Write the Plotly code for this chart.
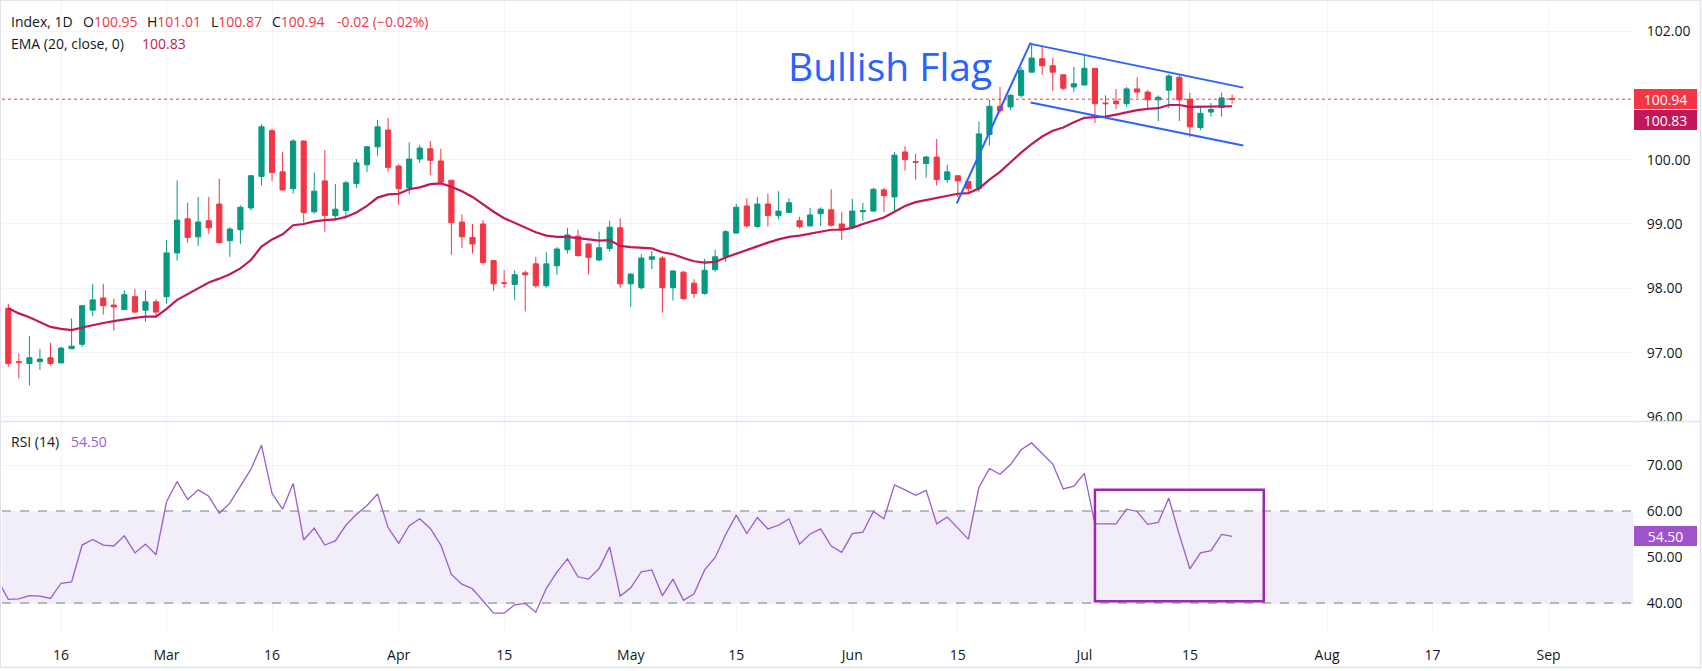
import plotly.graph_objects as go
import pandas as pd

# ---------------- data ----------------
start_date = "2026-02-09"

opens = [97.69, 96.86, 96.83, 96.86, 96.92, 96.84, 97.06, 97.13, 97.66, 97.85,
         97.74, 97.67, 97.87, 97.66, 97.79, 97.87, 98.55, 99.08, 98.80, 99.05,
         99.31, 98.74, 98.91, 99.25, 99.74, 100.45, 99.81, 99.55, 100.29, 99.19,
         99.67, 99.13, 99.21, 99.63, 99.92, 100.20, 100.46, 99.90, 99.56, 100.01,
         100.17, 99.98, 99.68, 99.03, 98.79, 99.00, 98.43, 98.085, 98.06, 98.24,
         98.38, 98.04, 98.35, 98.60, 98.81, 98.69, 98.44, 98.62, 98.94, 98.07,
         98.01, 98.45, 98.47, 98.01, 98.25, 98.08, 97.92, 98.29, 98.49, 98.86,
         99.28, 98.96, 99.31, 99.13, 99.18, 99.05, 98.97, 99.16, 99.22, 99.00,
         98.95, 99.19, 99.20, 99.53, 99.42, 100.12, 99.97, 99.94, 100.04, 99.69,
         99.75, 99.66, 99.55, 100.39, 100.83, 100.82, 101.00, 101.36, 101.57, 101.46,
         101.32, 101.13, 101.16, 101.42, 100.88, 100.91, 100.87, 101.10, 101.05, 100.93,
         101.08, 101.28, 100.94, 100.50, 100.74, 100.81, 100.95]
highs = [97.76, 96.99, 97.26, 97.06, 97.15, 97.09, 97.53, 97.74, 98.07, 98.07,
         97.84, 97.97, 97.99, 97.97, 97.83, 98.75, 99.68, 99.33, 99.42, 99.42,
         99.70, 98.95, 99.29, 99.76, 100.55, 100.48, 100.12, 100.32, 100.30, 99.80,
         100.15, 99.62, 99.67, 100.01, 100.21, 100.62, 100.65, 99.93, 100.27, 100.23,
         100.29, 100.17, 99.68, 99.15, 99.00, 99.06, 98.43, 98.28, 98.28, 98.28,
         98.49, 98.56, 98.64, 98.94, 98.91, 98.69, 98.88, 99.05, 99.09, 98.24,
         98.53, 98.58, 98.50, 98.28, 98.27, 98.14, 98.46, 98.60, 98.91, 99.31,
         99.40, 99.42, 99.47, 99.51, 99.40, 99.11, 99.25, 99.26, 99.54, 99.19,
         99.39, 99.33, 99.56, 99.56, 100.12, 100.21, 100.09, 100.06, 100.32, 99.92,
         99.75, 99.66, 100.59, 100.93, 101.13, 101.02, 101.44, 101.80, 101.75, 101.58,
         101.32, 101.44, 101.61, 101.42, 101.00, 101.10, 101.13, 101.28, 101.08, 101.00,
         101.33, 101.33, 101.04, 100.82, 100.88, 101.04, 101.01]
lows = [96.78, 96.60, 96.49, 96.73, 96.80, 96.84, 97.06, 97.09, 97.57, 97.59,
        97.34, 97.66, 97.62, 97.48, 97.57, 97.76, 98.43, 98.71, 98.66, 98.85,
        98.71, 98.49, 98.69, 99.21, 99.60, 99.67, 99.52, 99.47, 99.02, 99.16,
        98.88, 99.05, 99.08, 99.56, 99.81, 100.06, 99.81, 99.30, 99.46, 99.95,
        99.76, 99.65, 98.52, 98.63, 98.54, 98.37, 97.96, 98.01, 97.82, 97.64,
        98.01, 98.01, 98.21, 98.54, 98.49, 98.21, 98.42, 98.57, 98.01, 97.71,
        97.98, 98.30, 97.62, 97.81, 97.82, 97.85, 97.90, 98.26, 98.41, 98.85,
        98.94, 98.94, 98.96, 99.07, 99.18, 98.93, 98.97, 98.97, 98.96, 98.75,
        98.94, 99.05, 99.19, 99.19, 99.17, 99.83, 99.69, 99.72, 99.60, 99.64,
        99.42, 99.50, 99.50, 100.22, 100.73, 100.77, 100.96, 101.36, 101.32, 101.07,
        101.08, 101.05, 101.16, 100.57, 100.65, 100.79, 100.82, 100.96, 100.79, 100.60,
        100.80, 100.60, 100.35, 100.46, 100.67, 100.67, 100.87]
closes = [96.83, 96.85, 96.92, 96.90, 96.83, 97.07, 97.10, 97.73, 97.82, 97.73,
          97.71, 97.90, 97.63, 97.79, 97.63, 98.55, 99.06, 98.79, 99.03, 98.94,
          98.71, 98.92, 99.26, 99.75, 100.51, 99.80, 99.53, 100.29, 99.18, 99.51,
          99.13, 99.23, 99.64, 99.95, 100.20, 100.51, 99.88, 99.55, 100.01, 100.18,
          99.99, 99.65, 99.02, 98.80, 98.69, 98.40, 98.07, 98.08, 98.21, 98.21,
          98.04, 98.38, 98.61, 98.83, 98.51, 98.48, 98.63, 98.95, 98.07, 98.22,
          98.47, 98.49, 98.01, 98.27, 97.84, 97.92, 98.28, 98.49, 98.88, 99.26,
          98.97, 99.31, 99.13, 99.20, 99.33, 98.96, 99.14, 99.23, 98.98, 98.91,
          99.20, 99.21, 99.54, 99.44, 100.07, 100.00, 99.96, 100.04, 99.69, 99.81,
          99.67, 99.55, 100.40, 100.83, 100.76, 101.00, 101.39, 101.58, 101.46, 101.36,
          101.11, 101.18, 101.42, 100.87, 100.87, 100.87, 101.10, 101.05, 100.93, 100.97,
          101.30, 100.93, 100.51, 100.72, 100.78, 100.96, 100.94]
ema20 = [97.69, 97.61, 97.55, 97.48, 97.40, 97.37, 97.35, 97.39, 97.43, 97.46,
         97.49, 97.52, 97.54, 97.56, 97.56, 97.68, 97.82, 97.91, 98.00, 98.09,
         98.15, 98.22, 98.31, 98.44, 98.65, 98.76, 98.84, 98.98, 99.00, 99.04,
         99.06, 99.07, 99.11, 99.18, 99.28, 99.41, 99.46, 99.47, 99.54, 99.57,
         99.62, 99.63, 99.58, 99.51, 99.42, 99.30, 99.19, 99.09, 99.02, 98.95,
         98.87, 98.82, 98.80, 98.80, 98.78, 98.75, 98.74, 98.75, 98.66, 98.64,
         98.63, 98.62, 98.56, 98.53, 98.47, 98.42, 98.40, 98.41, 98.48, 98.54,
         98.60, 98.66, 98.71, 98.76, 98.80, 98.82, 98.85, 98.89, 98.91, 98.91,
         98.94, 99.00, 99.05, 99.10, 99.19, 99.28, 99.34, 99.37, 99.40, 99.44,
         99.47, 99.48, 99.55, 99.69, 99.81, 99.96, 100.11, 100.24, 100.36, 100.45,
         100.50, 100.58, 100.65, 100.66, 100.67, 100.70, 100.74, 100.77, 100.79, 100.80,
         100.85, 100.85, 100.82, 100.82, 100.83, 100.83, 100.83]
rsi14 = [40.8, 40.9, 41.6, 41.5, 41.0, 44.3, 44.6, 52.6, 53.8, 52.6,
         52.4, 54.6, 50.9, 52.8, 50.5, 62.0, 66.4, 62.5, 64.6, 63.2,
         59.5, 61.7, 65.3, 69.1, 74.3, 63.8, 60.4, 66.0, 53.7, 56.3,
         52.6, 53.5, 56.9, 59.3, 61.2, 63.7, 56.4, 53.0, 56.8, 58.3,
         56.2, 52.6, 46.2, 44.1, 43.1, 40.4, 37.8, 37.8, 39.6, 39.9,
         38.0, 43.2, 46.7, 49.6, 45.7, 45.2, 47.5, 52.2, 41.5, 43.3,
         46.8, 47.2, 41.6, 45.2, 40.6, 42.0, 47.2, 49.9, 54.9, 59.1,
         55.1, 58.6, 56.1, 56.9, 58.3, 52.8, 55.0, 56.1, 52.4, 51.0,
         55.1, 55.4, 59.9, 58.3, 65.7, 64.6, 63.4, 64.5, 57.2, 58.7,
         56.2, 53.9, 65.1, 69.2, 68.0, 70.1, 73.3, 74.8, 72.5, 70.2,
         64.8, 65.4, 68.2, 57.2, 57.2, 57.2, 60.4, 59.9, 57.1, 57.5,
         62.8, 54.8, 47.4, 50.9, 51.4, 54.9, 54.5]
rsi_prev = 45.0  # RSI of the session before the first visible bar (enters from the left edge)

tick_dates = ["2026-02-16", "2026-03-02", "2026-03-16", "2026-04-01", "2026-04-15",
              "2026-05-01", "2026-05-15", "2026-06-01", "2026-06-15", "2026-07-01",
              "2026-07-15", "2026-08-03", "2026-08-17", "2026-09-01"]
tick_labels = ["16", "Mar", "16", "Apr", "15", "May", "15", "Jun", "15", "Jul",
               "15", "Aug", "17", "Sep"]
price_ticks = [96, 97, 98, 99, 100, 102]   # 101.00 is hidden behind the price tags
rsi_ticks = [40, 50, 60, 70]

# flag pattern anchor points (date, price)
pole = [("2026-06-15", 99.32), ("2026-06-24", 101.82)]
flag_upper = [("2026-06-24", 101.80), ("2026-07-22", 101.12)]
flag_lower = [("2026-06-24", 100.89), ("2026-07-22", 100.22)]
rsi_box = [("2026-07-02", 40.4), ("2026-07-24", 64.6)]

# ---------------- helpers ----------------
all_days = pd.bdate_range(start_date, periods=200)
def idx(d):
    return int(all_days.get_loc(pd.Timestamp(d)))

xs = list(range(len(closes)))
tickvals = [idx(d) for d in tick_dates]

W, H = 1702, 671
ML, MR, MT, MB = 2, 69, 0, 39
PW = W - ML - MR
PH = H - MT - MB
def px_x(p):  # pixel x -> paper x
    return (p - ML) / PW
def px_y(p):  # pixel y -> paper y
    return (PH - (p - MT)) / PH

FONT = "Open Sans, sans-serif"
TXT = "#131722"
GREEN = "#089981"
RED = "#f23645"
EMA_C = "#c2185b"
RSI_C = "#9c5bd0"
GRID = "#f0f3fa"
BLUE = "#2962ff"

fig = go.Figure()

fig.add_trace(go.Candlestick(
    x=xs, open=opens, high=highs, low=lows, close=closes,
    increasing=dict(line=dict(color=GREEN, width=1), fillcolor=GREEN),
    decreasing=dict(line=dict(color=RED, width=1), fillcolor=RED),
    xaxis="x", yaxis="y", showlegend=False, hoverinfo="skip"))

fig.add_trace(go.Scatter(x=xs, y=ema20, mode="lines",
                         line=dict(color=EMA_C, width=2.2, shape="linear"),
                         xaxis="x", yaxis="y", showlegend=False, hoverinfo="skip"))

fig.add_trace(go.Scatter(x=[-1] + xs, y=[rsi_prev] + rsi14, mode="lines",
                         line=dict(color=RSI_C, width=1.3),
                         xaxis="x2", yaxis="y2", showlegend=False, hoverinfo="skip"))

xr = [(2 - 8.3) / 10.55, (1633 - 8.3) / 10.55]

main_dom = [(632 - 421) / 632, 1]
rsi_dom = [0, (632 - 422) / 632]

fig.update_layout(
    width=W, height=H,
    margin=dict(l=ML, r=MR, t=MT, b=MB),
    paper_bgcolor="white", plot_bgcolor="white",
    font=dict(family=FONT, size=14, color=TXT),
    showlegend=False,
    xaxis=dict(domain=[0, 1], range=xr, anchor="y", tickvals=tickvals, ticktext=tick_labels,
               showticklabels=False, showgrid=True, gridcolor=GRID, gridwidth=1,
               zeroline=False, showline=False, rangeslider=dict(visible=False), fixedrange=True),
    xaxis2=dict(domain=[0, 1], range=xr, anchor="y2", matches="x", tickvals=tickvals,
                ticktext=tick_labels, showticklabels=True, showgrid=True, gridcolor=GRID,
                gridwidth=1, zeroline=False, showline=False, ticks="outside", ticklen=10,
                tickcolor="rgba(0,0,0,0)", tickfont=dict(size=14, color=TXT)),
    yaxis=dict(domain=main_dom, range=[95.937, 102.482], side="right", anchor="x",
               tickvals=price_ticks, tickformat=".2f", showgrid=True, gridcolor=GRID,
               zeroline=False, showline=False, ticks="outside", ticklen=10,
               tickcolor="rgba(0,0,0,0)", tickfont=dict(size=14, color=TXT)),
    yaxis2=dict(domain=rsi_dom, range=[33.7, 79.35], side="right", anchor="x2",
                tickvals=rsi_ticks, tickformat=".2f", showgrid=True, gridcolor=GRID,
                zeroline=False, showline=False, ticks="outside", ticklen=10,
                tickcolor="rgba(0,0,0,0)", tickfont=dict(size=14, color=TXT)),
)

shapes = []
# RSI band and dashed levels
shapes.append(dict(type="rect", xref="x2 domain", yref="y2", x0=0, x1=1, y0=40, y1=60,
                   fillcolor="rgba(126,87,194,0.1)", line=dict(width=0), layer="below"))
for lv in (40, 60):
    shapes.append(dict(type="line", xref="x2 domain", yref="y2", x0=0, x1=1, y0=lv, y1=lv,
                       line=dict(color="#787b86", width=1, dash="dash")))
# last price dotted line
shapes.append(dict(type="line", xref="x domain", yref="y", x0=0, x1=1, y0=closes[-1], y1=closes[-1],
                   line=dict(color=RED, width=1, dash="dot")))
# flag lines
shapes.append(dict(type="line", xref="x", yref="y",
                   x0=idx(pole[0][0]) - 0.1, y0=pole[0][1], x1=idx(pole[1][0]) - 0.1, y1=pole[1][1],
                   line=dict(color=BLUE, width=2)))
for seg in (flag_upper, flag_lower):
    shapes.append(dict(type="line", xref="x", yref="y",
                       x0=idx(seg[0][0]) - 0.1, y0=seg[0][1], x1=idx(seg[1][0]) + 0.06, y1=seg[1][1],
                       line=dict(color=BLUE, width=2)))
# RSI rectangle
shapes.append(dict(type="rect", xref="x2", yref="y2",
                   x0=idx(rsi_box[0][0]), x1=idx(rsi_box[1][0]),
                   y0=rsi_box[0][1], y1=rsi_box[1][1],
                   line=dict(color="#9c27b0", width=2.5), fillcolor="rgba(0,0,0,0)"))
# frame / separators
BORDER = "#e0e3eb"
shapes.append(dict(type="line", xref="paper", yref="paper", x0=px_x(0), x1=px_x(1701),
                   y0=px_y(421.5), y1=px_y(421.5), line=dict(color=BORDER, width=1.5)))
shapes.append(dict(type="line", xref="paper", yref="paper", x0=px_x(0), x1=px_x(1701),
                   y0=px_y(667.5), y1=px_y(667.5), line=dict(color=BORDER, width=1.5)))
shapes.append(dict(type="line", xref="paper", yref="paper", x0=px_x(1700.5), x1=px_x(1700.5),
                   y0=px_y(0), y1=px_y(668), line=dict(color=BORDER, width=1.5)))
shapes.append(dict(type="line", xref="paper", yref="paper", x0=px_x(0.5), x1=px_x(0.5),
                   y0=px_y(0), y1=px_y(668), line=dict(color=BORDER, width=1)))
shapes.append(dict(type="line", xref="paper", yref="paper", x0=px_x(0), x1=px_x(1701),
                   y0=px_y(0.5), y1=px_y(0.5), line=dict(color=BORDER, width=1)))
fig.update_layout(shapes=shapes)

ann = []
def label(px, py, text, color=TXT, size=14):
    ann.append(dict(xref="paper", yref="paper", x=px_x(px), y=px_y(py), text=text,
                    showarrow=False, xanchor="left", yanchor="middle",
                    font=dict(family=FONT, size=size, color=color), borderpad=0))

def red(v):
    return f"<span style='color:{RED}'>{v}</span>"

label(10, 21.7, "Index, 1D")
label(82, 21.7, "O" + red(f"{opens[-1]:.2f}"))
label(146, 21.7, "H" + red(f"{highs[-1]:.2f}"))
label(210, 21.7, "L" + red(f"{lows[-1]:.2f}"))
label(271, 21.7, "C" + red(f"{closes[-1]:.2f}"))
chg = closes[-1] - closes[-2]
label(336, 21.7, f"{chg:.2f} (\u2212{abs(chg) / closes[-2] * 100:.2f}%)", color=RED)
label(10, 43, "EMA (20, close, 0)")
label(141, 43, f"{ema20[-1]:.2f}", color=EMA_C)
label(10, 442, "RSI (14)")
label(70, 442, f"{rsi14[-1]:.2f}", color=RSI_C)

# Bullish Flag text
ann.append(dict(xref="x", yref="y", x=(786 - 8.3) / 10.55, y=101.46, text="Bullish Flag",
                showarrow=False, xanchor="left", yanchor="middle",
                font=dict(family=FONT, size=39, color=BLUE)))

# axis price tags
def tag(yref, y, text, bg, yshift=0):
    ann.append(dict(xref="paper", yref=yref, x=1, y=y, text=text, showarrow=False,
                    xanchor="left", yanchor="middle", xshift=1, yshift=yshift,
                    width=57, height=14, borderpad=2, bgcolor=bg, bordercolor=bg, borderwidth=1,
                    font=dict(family=FONT, size=14, color="white"), align="center"))

tag("y", closes[-1], f"{closes[-1]:.2f}", RED)
tag("y", closes[-1], f"{ema20[-1]:.2f}", EMA_C, yshift=-21)
tag("y2", rsi14[-1], f"{rsi14[-1]:.2f}", "#9f52ca")

fig.update_layout(annotations=ann)

fig.write_html("out.html")
